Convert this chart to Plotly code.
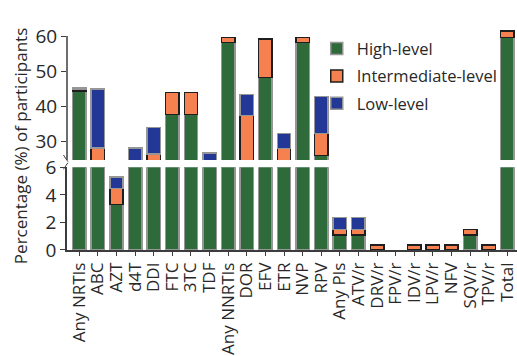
import plotly.graph_objects as go

categories = ["Any NRTIs", "ABC", "AZT", "d4T", "DDI", "FTC", "3TC", "TDF",
              "Any NNRTIs", "DOR", "EFV", "ETR", "NVP", "RPV",
              "Any PIs", "ATV/r", "DRV/r", "FPV/r", "IDV/r", "LPV/r", "NFV",
              "SQV/r", "TPV/r", "Total"]
high = [44.4, 21.4, 3.3, 21.0, 18.9, 37.8, 37.8, 21.0,
        58.2, 21.4, 48.2, 21.4, 58.2, 26.1,
        1.1, 1.1, 0.0, 0.0, 0.0, 0.0, 0.0,
        1.1, 0.0, 59.6]
intermediate = [0.5, 6.8, 1.15, 0.0, 7.6, 6.2, 6.2, 0.0,
                1.4, 16.0, 11.0, 6.7, 1.4, 6.3,
                0.4, 0.4, 0.36, 0.0, 0.36, 0.36, 0.36,
                0.4, 0.36, 1.8]
low = [0.5, 16.8, 0.85, 7.2, 7.5, 0.0, 0.0, 5.85,
       0.0, 6.0, 0.0, 4.3, 0.0, 10.4,
       0.85, 0.85, 0.0, 0.0, 0.0, 0.0, 0.0,
       0.0, 0.0, 0.0]
lower_ticks = [0, 2, 4, 6]
upper_ticks = [30, 40, 50, 60]

GREEN = "rgb(46,106,58)"
ORANGE = "rgb(245,128,80)"
BLUE = "rgb(35,56,150)"
GRAY = "rgb(150,150,150)"

series = [("High-level", high, GREEN, GRAY),
          ("Intermediate-level", intermediate, ORANGE, "rgb(30,30,30)"),
          ("Low-level", low, BLUE, GRAY)]

fig = go.Figure()
for yax in ["y", "y2"]:
    for name, vals, col, lc in series:
        shown = [v if v > 0 else None for v in vals]
        fig.add_trace(go.Bar(
            x=categories, y=shown, name=name, yaxis=yax, xaxis="x",
            marker=dict(color=col, line=dict(color=lc, width=1.5)),
            width=0.72, legendgroup=name, showlegend=(yax == "y"),
        ))

FONT = "Open Sans"
TXT = "rgb(40,40,40)"
fig.update_layout(
    width=517, height=356,
    margin=dict(l=67, r=0, t=29, b=106),
    barmode="stack",
    plot_bgcolor="white", paper_bgcolor="white",
    font=dict(family=FONT, size=16, color=TXT),
    xaxis=dict(
        type="category", range=[-0.66, 23.52], showline=True,
        linecolor="rgb(60,60,60)", linewidth=1.5, ticks="outside",
        ticklen=4, tickcolor="rgb(60,60,60)", tickangle=-90,
        tickmode="array", tickvals=categories, ticktext=categories,
        tickfont=dict(size=17, color=TXT), showgrid=False, zeroline=False,
        anchor="y",
    ),
    yaxis=dict(
        domain=[0, 0.374], range=[0, 6], tickvals=lower_ticks,
        showline=True, linecolor="rgb(60,60,60)", linewidth=1.5,
        ticks="outside", ticklen=5, tickcolor="rgb(60,60,60)",
        tickfont=dict(size=19, color=TXT), showgrid=False, zeroline=False,
    ),
    yaxis2=dict(
        domain=[0.407, 1], range=[24.8, 62], tickvals=upper_ticks,
        showline=False, ticks="outside", ticklen=5,
        tickcolor="rgb(60,60,60)", tickfont=dict(size=19, color=TXT),
        showgrid=False, zeroline=False, anchor="x",
    ),
    legend=dict(x=0.555, y=0.99, xanchor="left", yanchor="top",
                font=dict(size=16.5, color=TXT), bgcolor="rgba(0,0,0,0)",
                tracegroupgap=3, itemwidth=30),
    showlegend=True,
    annotations=[dict(
        text="Percentage (%) of participants", xref="paper", yref="paper",
        x=0, y=0.47, xanchor="center", yanchor="middle", textangle=-90,
        showarrow=False, font=dict(size=17, color=TXT), xshift=-47,
    )],
    shapes=[
        dict(type="line", xref="paper", yref="y2", x0=0, x1=0, y0=24.8, y1=60,
             line=dict(color="rgb(60,60,60)", width=1.5)),
        dict(type="line", xref="paper", yref="paper", x0=-0.008, x1=0.002,
             y0=0.43, y1=0.40, line=dict(color="rgb(60,60,60)", width=1)),
        dict(type="line", xref="paper", yref="paper", x0=-0.008, x1=0.002,
             y0=0.365, y1=0.395, line=dict(color="rgb(60,60,60)", width=1)),
    ],
)

fig.write_html("out.html")
